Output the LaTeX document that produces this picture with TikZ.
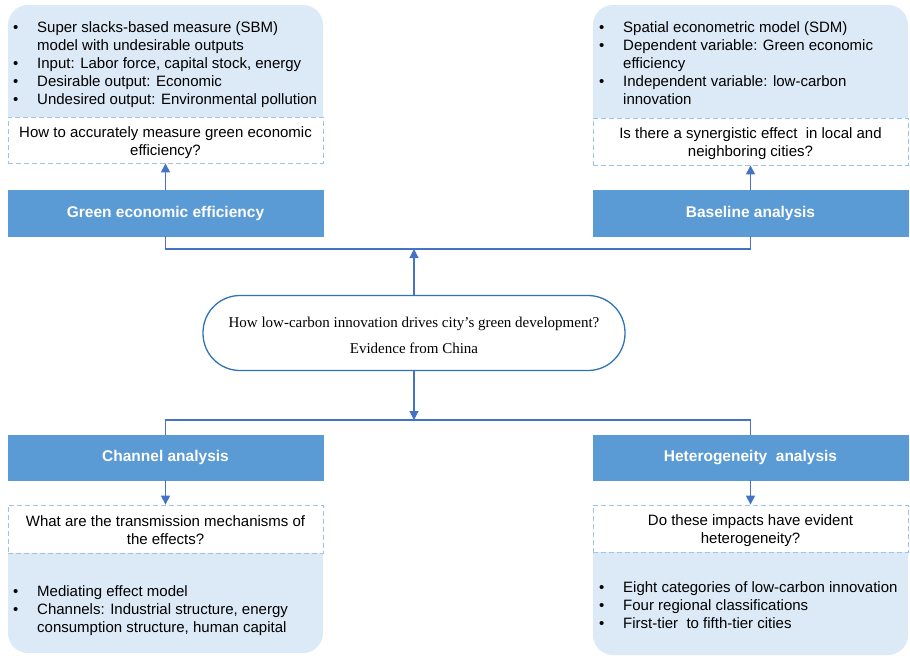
\documentclass[tikz,border=0pt]{standalone}
\usepackage{fontspec}
\setmainfont{Liberation Sans}
\newfontfamily\timesfont{Liberation Serif}
\usetikzlibrary{arrows.meta}
\definecolor{barblue}{HTML}{5B9BD5}
\definecolor{lightblue}{HTML}{DCE9F6}
\definecolor{dashblue}{HTML}{9DC3E6}
\definecolor{linkblue}{HTML}{4472C4}
\definecolor{ovalblue}{HTML}{2E75B6}
\newcommand\mybul{\makebox[24pt][l]{\textbullet}}
\newcommand\myind{\hspace*{24pt}}
\newcommand\qtext[1]{\raisebox{-2.5pt}[\height][\depth]{\begin{tabular}{@{}c@{}}#1\end{tabular}}}
\begin{document}
\begin{tikzpicture}[x=1pt,y=-1pt,
  bar/.style={rectangle, fill=barblue, draw=barblue, minimum width=315pt, minimum height=46pt, inner sep=0pt, text=white, font=\fontsize{15.5}{18}\selectfont\bfseries},
  question/.style={rectangle, fill=white, draw=dashblue, dash pattern=on 5pt off 3pt, line width=0.8pt, minimum width=315pt, inner sep=0pt, align=center, font=\fontsize{15}{18}\selectfont},
  info/.style={fill=lightblue, rounded corners=20pt},
  bullets/.style={anchor=base west, inner sep=0pt, font=\fontsize{15}{18}\selectfont},
  link/.style={draw=linkblue, line width=1.1pt},
  arr/.style={link, -{Triangle[width=9pt,length=9pt]}},
]
\useasboundingbox (0,0) rectangle (910,657);
% light info areas
\fill[info] (8,118) -- (8,5) -- (323,5) -- (323,118);
\fill[info] (593,119) -- (593,5) -- (908,5) -- (908,119);
\fill[info] (8,552) -- (8,653) -- (323,653) -- (323,552);
\fill[info] (593,551) -- (593,655) -- (908,655) -- (908,551);
% bullet lists
\node[bullets] (b1) at (13,32) {\begin{tabular}[t]{@{}l@{}}
\mybul Super slacks-based measure (SBM)\\
\myind model with undesirable outputs\\
\mybul Input: Labor force, capital stock, energy\\
\mybul Desirable output: Economic\\
\mybul Undesired output: Environmental pollution
\end{tabular}};
\node[bullets] (b2) at (599,32) {\begin{tabular}[t]{@{}l@{}}
\mybul Spatial econometric model (SDM)\\
\mybul Dependent variable: Green economic\\
\myind efficiency\\
\mybul Independent variable: low-carbon\\
\myind innovation
\end{tabular}};
\node[bullets] (b3) at (13,596) {\begin{tabular}[t]{@{}l@{}}
\mybul Mediating effect model\\
\mybul Channels: Industrial structure, energy\\
\myind consumption structure, human capital
\end{tabular}};
\node[bullets] (b4) at (599,592) {\begin{tabular}[t]{@{}l@{}}
\mybul Eight categories of low-carbon innovation\\
\mybul Four regional classifications\\
\mybul First-tier\ \ to fifth-tier cities
\end{tabular}};
% questions
\node[question, minimum height=46pt] (q1) at (165.5,140) {\qtext{How to accurately measure green economic\\efficiency?}};
\node[question, minimum height=47pt] (q2) at (750.5,141.5) {\qtext{Is there a synergistic effect\ \ in local and\\neighboring cities?}};
\node[question, minimum height=48pt] (q3) at (165.5,529) {\qtext{What are the transmission mechanisms of\\the effects?}};
\node[question, minimum height=47pt] (q4) at (750.5,528.5) {\qtext{Do these impacts have evident\\heterogeneity?}};
% bars
\node[bar] (bar1) at (165.5,213) {Green economic efficiency};
\node[bar] (bar2) at (750.5,213) {Baseline analysis};
\node[bar, minimum height=45pt] (bar3) at (165.5,457.5) {Channel analysis};
\node[bar, minimum height=45pt] (bar4) at (750.5,457.5) {Heterogeneity\ \ analysis};
% centre
\node[rectangle, rounded corners=37pt, draw=ovalblue, line width=1.3pt, fill=white, minimum width=422pt, minimum height=75pt, align=center, font=\timesfont\fontsize{15}{26}\selectfont] (c) at (414,333) {\raisebox{-2pt}[\height][\depth]{\begin{tabular}{@{}c@{}}How low-carbon innovation drives city’s green development?\\Evidence from China\end{tabular}}};
\coordinate (hubtop) at (414,249);
\coordinate (hubbot) at (414,420);
% connectors
\draw[arr] (bar1.north) -- (q1.south);
\draw[arr] (bar2.north) -- (q2.south);
\draw[arr] (bar3.south) -- (q3.north);
\draw[arr] (bar4.south) -- (q4.north);
\draw[link] (bar1.south) |- (hubtop) -| (bar2.south);
\draw[link] (bar3.north) |- (hubbot) -| (bar4.north);
\draw[arr] (c.north) -- (hubtop);
\draw[arr] (c.south) -- (hubbot);
\end{tikzpicture}
\end{document}
